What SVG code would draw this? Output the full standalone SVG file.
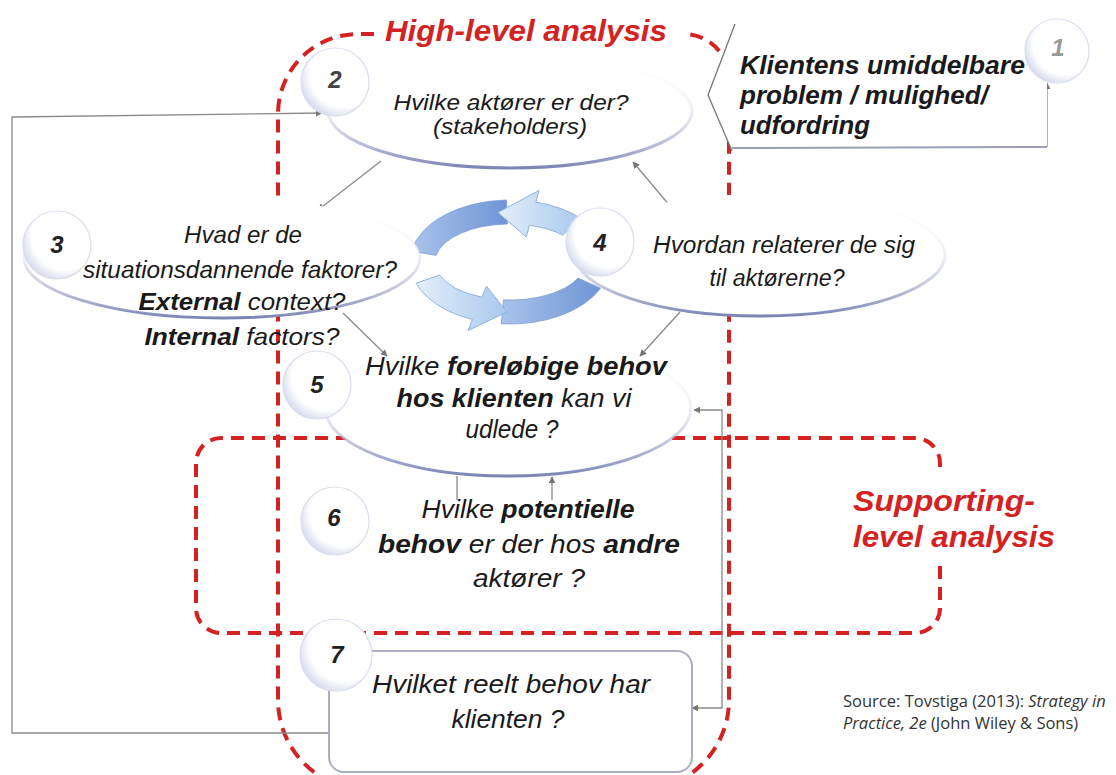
<svg xmlns="http://www.w3.org/2000/svg" width="1116" height="775" viewBox="0 0 1116 775">
<defs>
  <linearGradient id="edge" x1="0" y1="0" x2="0" y2="1">
    <stop offset="0" stop-color="#ffffff" stop-opacity="0"/>
    <stop offset="0.5" stop-color="#d5d8e8" stop-opacity="0.4"/>
    <stop offset="1" stop-color="#7c84b4"/>
  </linearGradient>
  <radialGradient id="bub" cx="0.62" cy="0.38" r="0.68">
    <stop offset="0" stop-color="#ffffff"/>
    <stop offset="0.72" stop-color="#ffffff"/>
    <stop offset="1" stop-color="#d3d8ea"/>
  </radialGradient>
  <linearGradient id="dark" x1="0" y1="0" x2="1" y2="0">
    <stop offset="0" stop-color="#a9c4ea"/>
    <stop offset="1" stop-color="#6f95d5"/>
  </linearGradient>
  <linearGradient id="light" x1="0" y1="0" x2="1" y2="0">
    <stop offset="0" stop-color="#e3eef9"/>
    <stop offset="1" stop-color="#a9c9ee"/>
  </linearGradient>
  <marker id="arr" viewBox="0 0 10 10" refX="9" refY="5" markerWidth="7" markerHeight="7" orient="auto-start-reverse" markerUnits="userSpaceOnUse">
    <path d="M0,0 L10,5 L0,10 Z" fill="#777"/>
  </marker>
</defs>
<style>
  .red{fill:none;stroke:#d42222;stroke-width:4;stroke-dasharray:13 8}
  .ell{fill:#fff;stroke:url(#edge);stroke-width:3}
  .bub{fill:url(#bub);stroke:#d9dded;stroke-width:1.2}
  .num{font-family:"Liberation Sans",Arial,sans-serif;font-style:italic;font-weight:bold;font-size:24px;fill:#222;text-anchor:middle}
  .t{font-family:"Liberation Sans",Arial,sans-serif;font-style:italic;fill:#1a1a1a;text-anchor:middle}
  .ls{text-anchor:start}
  .b{font-weight:bold}
  .lbl{font-family:"Liberation Sans",Arial,sans-serif;font-style:italic;font-weight:bold;fill:#d42222}
  .con{fill:none;stroke:#8a8a8a;stroke-width:1.3}
  .src{font-family:"Open Sans","Liberation Sans",sans-serif;font-size:16.5px;fill:#333}
</style>
<rect width="1116" height="775" fill="#fff"/>

<!-- circular arrows -->
<g id="cycle">
  <path d="M411.5,251.2 A100,62 0 0,1 506.5,200 L507.4,224 A75,38 0 0,0 436.1,255.4 Z" fill="url(#dark)" stroke="#7c9fd8" stroke-width="0.8"/>
  <path d="M497.8,212.5 L539,190.5 L535.9,202.1 A100,62 0 0,1 580.7,218.2 L563,235.1 A75,38 0 0,0 529.4,225.3 L526.3,236.9 Z" fill="url(#light)" stroke="#8fb3e0" stroke-width="1"/>
  <path d="M501.3,323.8 A100,62 0 0,0 600.6,288.2 L578,278.1 A75,38 0 0,1 503.5,299.9 Z" fill="url(#dark)" stroke="#7c9fd8" stroke-width="0.8"/>
  <path d="M416,283.2 A100,62 0 0,0 472.5,319.5 L468,330.6 L506.9,312 L486.4,286.1 L481.9,297.2 A75,38 0 0,1 439.5,275 Z" fill="url(#light)" stroke="#8fb3e0" stroke-width="1"/>
</g>

<!-- analysis regions -->
<g id="regions">
  <path class="red" d="M374,34 H358 A80,80 0 0,0 278,114 V700 A90,90 0 0,0 368,790 H639 A90,90 0 0,0 729,700 V79 A45,45 0 0,0 684,34"/>
  <path class="red" d="M940,566 V608 A25,25 0 0,1 915,633 H221 A25,25 0 0,1 196,608 V463 A25,25 0 0,1 221,438 H915 A25,25 0 0,1 940,463 V474"/>
  <text class="lbl" x="526" y="41" font-size="30" text-anchor="middle" textLength="282" lengthAdjust="spacingAndGlyphs">High-level analysis</text>
  <text class="lbl" x="853" y="511" font-size="30" textLength="182" lengthAdjust="spacingAndGlyphs">Supporting-</text>
  <text class="lbl" x="853" y="547" font-size="30" textLength="202" lengthAdjust="spacingAndGlyphs">level analysis</text>
</g>

<!-- connectors -->
<g id="connectors">
  <line class="con" x1="381" y1="161" x2="318" y2="210" marker-end="url(#arr)"/>
  <line class="con" x1="676" y1="213" x2="633" y2="162" marker-end="url(#arr)"/>
  <line class="con" x1="343" y1="313" x2="387" y2="356" marker-end="url(#arr)"/>
  <line class="con" x1="680" y1="312" x2="640" y2="356" marker-end="url(#arr)"/>
  <line class="con" x1="457" y1="476" x2="457" y2="500"/>
  <line class="con" x1="552" y1="500" x2="552" y2="477" marker-end="url(#arr)"/>
  <polyline class="con" points="694,410 722,410 722,708 692,708" marker-start="url(#arr)" marker-end="url(#arr)"/>
  <polyline class="con" points="330,733 12,733 12,117 322,113" marker-end="url(#arr)"/>
  <line class="con" x1="1047" y1="147" x2="1047" y2="83" marker-end="url(#arr)"/>
</g>

<!-- node 1 -->
<g id="node1">
  <polygon points="733,28 708,95 732,150 1047,147 1047,60 1030,28" fill="#fff"/>
  <polyline points="735,24 708,95 732,151" fill="none" stroke="#777" stroke-width="1.3"/>
  <line x1="732" y1="148" x2="1047" y2="147" stroke="#9a9fb5" stroke-width="2"/>
  <circle class="bub" cx="1057" cy="51" r="32"/>
  <text class="num" x="1058" y="56" style="fill:#9a9a9a">1</text>
  <text class="t b ls" x="740" y="74" font-size="25" textLength="285" lengthAdjust="spacingAndGlyphs">Klientens umiddelbare</text>
  <text class="t b ls" x="740" y="104" font-size="25" textLength="248" lengthAdjust="spacingAndGlyphs">problem / mulighed/</text>
  <text class="t b ls" x="740" y="134" font-size="25" textLength="130" lengthAdjust="spacingAndGlyphs">udfordring</text>
</g>

<!-- node 2 -->
<g id="node2">
  <ellipse class="ell" cx="510" cy="111" rx="182" ry="57"/>
  <circle class="bub" cx="335" cy="82" r="34"/>
  <text class="num" x="335" y="88" style="fill:#444">2</text>
  <text class="t" x="511" y="110" font-size="22" textLength="235" lengthAdjust="spacingAndGlyphs">Hvilke aktører er der?</text>
  <text class="t" x="510" y="134" font-size="22" textLength="154" lengthAdjust="spacingAndGlyphs">(stakeholders)</text>
</g>

<!-- node 3 -->
<g id="node3">
  <ellipse class="ell" cx="222" cy="258" rx="198" ry="60"/>
  <circle class="bub" cx="57" cy="245" r="34"/>
  <text class="num" x="57" y="253">3</text>
  <text class="t" x="243" y="243" font-size="24" textLength="118" lengthAdjust="spacingAndGlyphs">Hvad er de</text>
  <text class="t" x="240" y="278" font-size="24" textLength="314" lengthAdjust="spacingAndGlyphs">situationsdannende faktorer?</text>
  <text class="t" x="242" y="310" font-size="24" textLength="207" lengthAdjust="spacingAndGlyphs"><tspan class="b">External</tspan> context?</text>
  <text class="t" x="242" y="345" font-size="24" textLength="195" lengthAdjust="spacingAndGlyphs"><tspan class="b">Internal</tspan> factors?</text>
</g>

<!-- node 4 -->
<g id="node4">
  <ellipse class="ell" cx="760" cy="255" rx="185" ry="61"/>
  <circle class="bub" cx="600" cy="242" r="34"/>
  <text class="num" x="600" y="251">4</text>
  <text class="t" x="784" y="253" font-size="23.5" textLength="262" lengthAdjust="spacingAndGlyphs">Hvordan relaterer de sig</text>
  <text class="t" x="777" y="286" font-size="23.5" textLength="135" lengthAdjust="spacingAndGlyphs">til aktørerne?</text>
</g>

<!-- node 5 -->
<g id="node5">
  <ellipse class="ell" cx="508" cy="408" rx="183" ry="68"/>
  <circle class="bub" cx="317" cy="385" r="34"/>
  <text class="num" x="317" y="393">5</text>
  <text class="t" x="516" y="375" font-size="26" textLength="302" lengthAdjust="spacingAndGlyphs">Hvilke <tspan class="b">foreløbige behov</tspan></text>
  <text class="t" x="514" y="407" font-size="26" textLength="235" lengthAdjust="spacingAndGlyphs"><tspan class="b">hos klienten</tspan> kan vi</text>
  <text class="t" x="512" y="438" font-size="26" textLength="93" lengthAdjust="spacingAndGlyphs">udlede ?</text>
</g>

<!-- node 6 -->
<g id="node6">
  <circle class="bub" cx="335" cy="521" r="34"/>
  <text class="num" x="334" y="526">6</text>
  <text class="t" x="528" y="518" font-size="26" textLength="213" lengthAdjust="spacingAndGlyphs">Hvilke <tspan class="b">potentielle</tspan></text>
  <text class="t" x="529" y="553" font-size="26" textLength="302" lengthAdjust="spacingAndGlyphs"><tspan class="b">behov</tspan> er der hos <tspan class="b">andre</tspan></text>
  <text class="t" x="529" y="587" font-size="26" textLength="112" lengthAdjust="spacingAndGlyphs">aktører ?</text>
</g>

<!-- node 7 -->
<g id="node7">
  <rect x="329" y="651" width="363" height="121" rx="15" fill="#fff" stroke="#a9aec5" stroke-width="2"/>
  <circle class="bub" cx="336" cy="655" r="36"/>
  <text class="num" x="337" y="663">7</text>
  <text class="t" x="511" y="693" font-size="26" textLength="278" lengthAdjust="spacingAndGlyphs">Hvilket reelt behov har</text>
  <text class="t" x="508" y="728" font-size="26" textLength="113" lengthAdjust="spacingAndGlyphs">klienten ?</text>
</g>

<g id="source">
  <text class="src" x="843" y="707">Source: Tovstiga (2013): <tspan font-style="italic">Strategy in</tspan></text>
  <text class="src" x="843" y="729"><tspan font-style="italic">Practice, 2e</tspan> (John Wiley &amp; Sons)</text>
</g>
</svg>
